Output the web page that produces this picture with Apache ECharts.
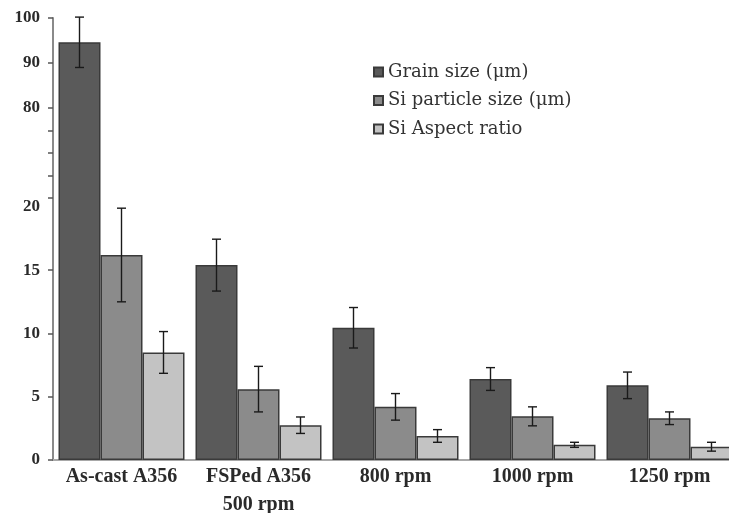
<!DOCTYPE html>
<html>
<head>
<meta charset="utf-8">
<script src="https://cdn.jsdelivr.net/npm/echarts@6/dist/echarts.min.js"></script>
<style>
    html, body { margin: 0; padding: 0; background: #fff; }
    #chart { width: 729px; height: 513px; }
</style>
</head>
<body>
<div id="chart"></div>
<script>
const categories = ['As-cast A356', 'FSPed A356\n500 rpm', '800 rpm', '1000 rpm', '1250 rpm'];
const seriesNames = ['Grain size (μm)', 'Si particle size (μm)', 'Si Aspect ratio'];

const grainSize = [94.6, 15.4, 10.45, 6.4, 5.9];
const grainErr = [5.6, 2.05, 1.6, 0.9, 1.05];
const particleSize = [16.2, 5.6, 4.2, 3.45, 3.3];
const particleErr = [3.7, 1.8, 1.05, 0.75, 0.5];
const aspectRatio = [8.5, 2.75, 1.9, 1.2, 1.05];
const aspectErr = [1.65, 0.65, 0.5, 0.2, 0.35];

const tickValues = [0, 5, 10, 15, 60, 65, 70, 75, 80, 90, 100];
const labelValues = [0, 5, 10, 15, 20, 80, 90, 100];

// broken axis: 0-20 below, 58-100 above at a smaller scale
const LOW_MAX = 20;
const HIGH_MIN = 58;
const HIGH_SCALE = 4.5 / 12.66;
function toAxis(v) {
    return v <= LOW_MAX ? v : LOW_MAX + (v - HIGH_MIN) * HIGH_SCALE;
}
function fromAxis(d) {
    return d <= LOW_MAX + 1e-6 ? d : HIGH_MIN + (d - LOW_MAX) / HIGH_SCALE;
}

const BAR_WIDTH = 42;
const colors = ['#5a5a5a', '#8b8b8b', '#c3c3c3'];
const values = [grainSize, particleSize, aspectRatio];
const errors = [grainErr, particleErr, aspectErr];

const barSeries = values.map((arr, s) => ({
    name: seriesNames[s],
    type: 'bar',
    barWidth: BAR_WIDTH,
    barGap: '0%',
    itemStyle: {
        color: colors[s],
        borderColor: '#3a3a3a',
        borderWidth: 1.5
    },
    data: arr.map(v => toAxis(v))
}));

const errSeries = values.map((arr, s) => ({
    type: 'custom',
    z: 5,
    silent: true,
    data: arr.map((v, i) => [i, toAxis(v - errors[s][i]), toAxis(v + errors[s][i])]),
    renderItem: (params, api) => {
        const lo = api.coord([api.value(0), api.value(1)]);
        const hi = api.coord([api.value(0), api.value(2)]);
        const x = lo[0] + (s - 1) * BAR_WIDTH;
        const cap = 4.5;
        const style = { stroke: '#1a1a1a', lineWidth: 1.4 };
        return {
            type: 'group',
            children: [
                { type: 'line', shape: { x1: x, y1: lo[1], x2: x, y2: hi[1] }, style },
                { type: 'line', shape: { x1: x - cap, y1: lo[1], x2: x + cap, y2: lo[1] }, style },
                { type: 'line', shape: { x1: x - cap, y1: hi[1], x2: x + cap, y2: hi[1] }, style }
            ]
        };
    }
}));

const myEchart = echarts.init(document.getElementById('chart'));
const option = {
    animation: false,
    grid: {
        left: 53,
        top: 18,
        bottom: 53,
        width: 685,
        outerBoundsMode: 'none'
    },
    legend: {
        orient: 'vertical',
        left: 373,
        top: 62,
        padding: 0,
        itemWidth: 9,
        itemHeight: 9,
        itemGap: 8.5,
        icon: 'rect',
        data: seriesNames,
        textStyle: {
            fontFamily: 'DejaVu Serif',
            fontSize: 18,
            lineHeight: 20,
            color: '#333'
        }
    },
    xAxis: {
        type: 'category',
        data: categories,
        axisTick: { show: false },
        axisLine: {
            lineStyle: { color: '#a8a8a8', width: 2 }
        },
        axisLabel: {
            interval: 0,
            margin: 3,
            fontFamily: 'Liberation Serif',
            fontWeight: 'bold',
            fontSize: 20,
            lineHeight: 28,
            color: '#2a2a2a'
        }
    },
    yAxis: {
        type: 'value',
        min: 0,
        max: toAxis(100),
        splitLine: { show: false },
        axisLine: {
            show: true,
            lineStyle: { color: '#8a8a8a', width: 2 }
        },
        axisTick: {
            show: true,
            length: 5,
            customValues: tickValues.map(toAxis),
            lineStyle: { color: '#555', width: 1.5 }
        },
        axisLabel: {
            margin: 13,
            customValues: labelValues.map(toAxis),
            formatter: v => String(Math.round(fromAxis(v))),
            fontFamily: 'Liberation Serif',
            fontWeight: 'bold',
            fontSize: 17,
            color: '#2a2a2a'
        }
    },
    series: barSeries.concat(errSeries)
};
option && myEchart.setOption(option);
</script>
</body>
</html>
